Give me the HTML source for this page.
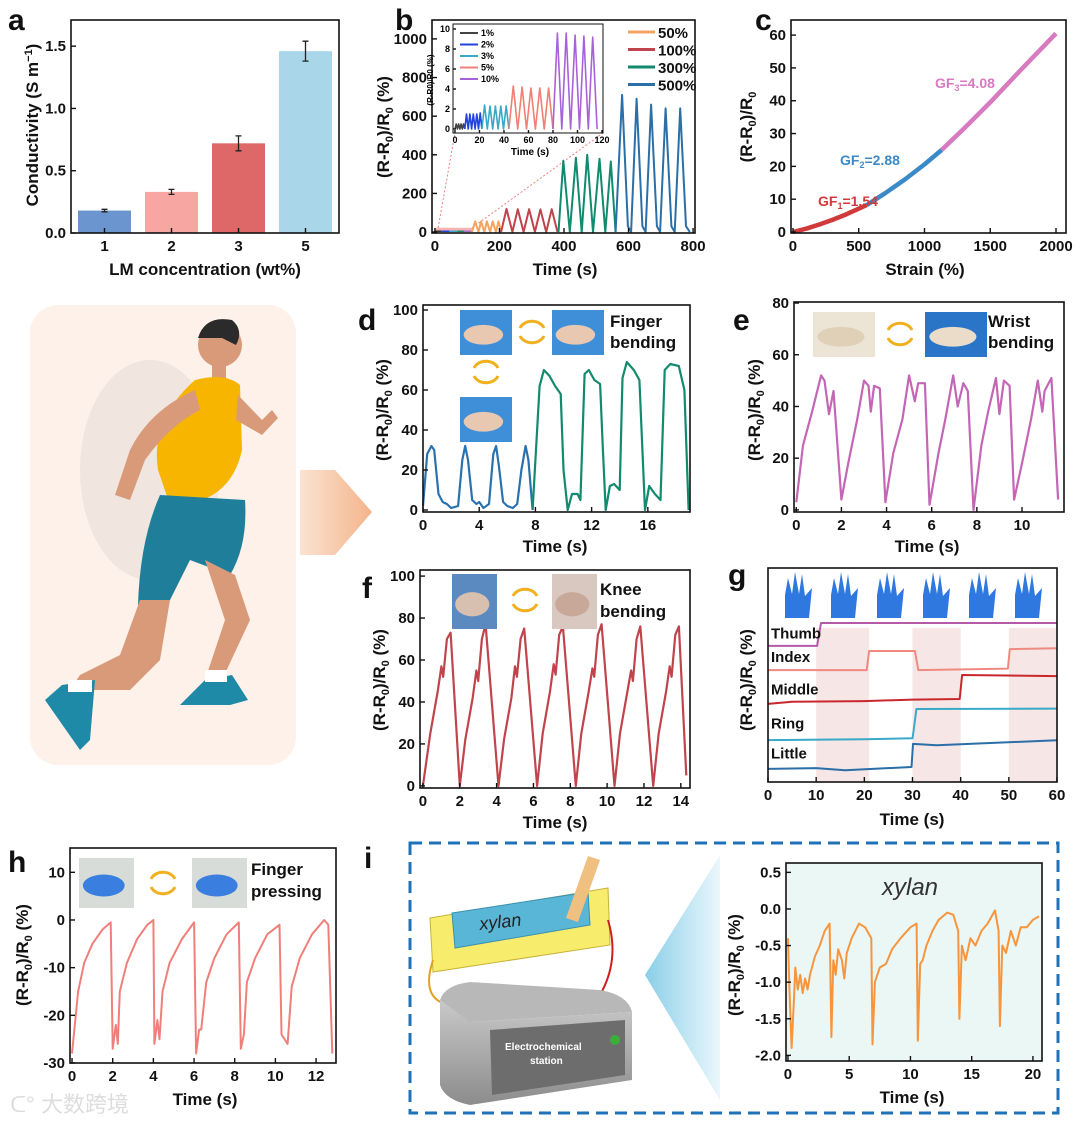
<!DOCTYPE html>
<html><head><meta charset="utf-8"><style>
html,body{margin:0;padding:0;background:#fff}
svg{display:block;font-family:"Liberation Sans",Arial,sans-serif}
.tk{font-size:15px;font-weight:bold;fill:#111}
.tt{font-size:17px;font-weight:bold;fill:#111}
.pl{font-size:30px;font-weight:bold;fill:#111}
</style></head><body>
<svg id="fig" width="1080" height="1124" viewBox="0 0 1080 1124" xmlns="http://www.w3.org/2000/svg">
<defs>
<linearGradient id="arr" x1="0" x2="1"><stop offset="0" stop-color="#fbe3d2"/><stop offset="1" stop-color="#f4b48a"/></linearGradient>
<linearGradient id="tri" x1="1" x2="0"><stop offset="0" stop-color="#e6f5fb"/><stop offset="1" stop-color="#6cc3e2"/></linearGradient>
<linearGradient id="box" x1="0" x2="0" y1="0" y2="1"><stop offset="0" stop-color="#c9c9c9"/><stop offset="1" stop-color="#8c8c8c"/></linearGradient>
</defs>
<g>
<rect x="30" y="305" width="266" height="460" rx="28" fill="#fdf1ea"/>
<ellipse cx="150" cy="470" rx="70" ry="110" fill="#e9e0da" opacity="0.7"/>
<polygon points="300,470 335,470 372,512 335,555 300,555" fill="url(#arr)"/>
<circle cx="220" cy="345" r="22" fill="#d99a7a"/>
<path d="M198,338 Q205,315 232,320 Q244,330 236,345 L222,338 Z" fill="#2b2b2b"/>
<rect x="212" y="360" width="14" height="20" fill="#d99a7a"/>
<path d="M195,380 Q225,372 240,385 L242,450 Q230,505 170,505 L158,470 Q150,420 195,380 Z" fill="#f7b500"/>
<path d="M195,390 Q150,410 130,450 L115,495 L130,500 L145,460 Q170,425 200,410 Z" fill="#d99a7a"/>
<path d="M238,395 L262,420 L272,410 L278,418 L262,435 L236,420 Z" fill="#d99a7a"/>
<path d="M160,495 L245,500 Q248,545 230,575 L190,560 L170,600 L138,605 Q140,540 160,495 Z" fill="#1f7f9a"/>
<path d="M140,600 L170,600 L160,660 L130,690 L70,690 L80,675 L120,655 Z" fill="#d99a7a"/>
<path d="M205,560 L235,575 L250,620 L222,680 L205,680 L225,620 Z" fill="#d99a7a"/>
<path d="M62,685 L95,680 L90,740 L80,750 L45,700 Z" fill="#1f8aa8"/>
<path d="M205,680 L232,675 L248,700 L230,705 L180,705 Z" fill="#1f8aa8"/>
<rect x="205" y="670" width="22" height="12" fill="#fff"/>
<rect x="68" y="680" width="24" height="12" fill="#fff"/>
</g>
<g>
<rect x="410" y="843" width="648" height="270" fill="none" stroke="#1f72b8" stroke-width="3" stroke-dasharray="12,7"/>
<polygon points="430,918 608,888 610,945 433,972" fill="#f7ec6b" stroke="#c8b23a"/>
<polygon points="452,913 588,892 590,925 455,948" fill="#5ab6d6" stroke="#3a8fb0"/>
<text x="480" y="930" font-size="18" font-style="italic" fill="#222" transform="rotate(-6 480 930)">xylan</text>
<polygon points="566,918 578,922 600,860 588,856" fill="#f0c080"/>
<path d="M433,960 Q420,1000 450,1005" fill="none" stroke="#e3a020" stroke-width="2"/>
<path d="M608,920 Q620,960 600,995" fill="none" stroke="#cc2020" stroke-width="2"/>
<path d="M440,1000 Q445,985 470,982 L600,990 Q628,995 632,1012 L470,1022 Q445,1020 440,1000 Z" fill="#b8b8b8"/>
<path d="M440,1000 L470,1022 L632,1012 L632,1080 L470,1105 Q445,1100 440,1085 Z" fill="url(#box)"/>
<polygon points="490,1030 625,1020 625,1075 492,1095" fill="#6d6d6d"/>
<text x="505" y="1050" font-size="10" font-weight="bold" fill="#fff">Electrochemical</text>
<text x="530" y="1064" font-size="10" font-weight="bold" fill="#fff">station</text>
<circle cx="615" cy="1040" r="5" fill="#3ab03a"/>
<polygon points="645,975 720,855 720,1100" fill="url(#tri)" opacity="0.8"/>
</g>
<g id="plots"></g>
<text class="pl" x="8" y="30">a</text>
<text class="pl" x="395" y="30">b</text>
<text class="pl" x="755" y="30">c</text>
<text class="pl" x="358" y="330">d</text>
<text class="pl" x="733" y="330">e</text>
<text class="pl" x="362" y="598">f</text>
<text class="pl" x="728" y="585">g</text>
<text class="pl" x="8" y="872">h</text>
<text class="pl" x="364" y="868">i</text>
<text x="10" y="1112" font-size="22" fill="#ddd" font-family="'Liberation Sans','Noto Sans CJK SC',sans-serif">ᑕ° 大数跨境</text>
</svg>
<script>
const aCats=["1","2","3","5"];
const aVals=[0.18,0.33,0.72,1.46];
const aErr=[0.01,0.02,0.06,0.08];
const aColors=["#6b95cf","#f7a6a2","#de6767","#a9d6e8"];
const b50=[[115,0],[125,55],[135,0],[143,55],[153,0],[161,55],[171,0],[179,55],[189,0],[197,55],[205,0]];
const b100=[[205,0],[222,120],[240,0],[257,118],[275,0],[292,118],[310,0],[327,117],[345,0],[362,118],[380,0]];
const b300=[[383,0],[398,370],[418,0],[437,385],[455,0],[472,400],[490,0],[510,380],[528,0],[545,365],[560,0]];
const b500=[[560,0],[580,710],[598,30],[608,0],[625,690],[643,30],[653,0],[670,660],[688,30],[698,0],[715,640],[733,30],[743,0],[760,640],[778,30],[790,0]];
const in1=[[0,0],[1,0.5],[2,0],[3,0.5],[4,0],[5,0.5],[6,0],[7,0.5],[8,0]];
const in2=[[8,0],[9.4,1.5],[10.8,0],[12.2,1.5],[13.6,0],[15,1.5],[16.4,0],[17.8,1.5],[19.2,0],[20.6,1.6],[22,0]];
const in3=[[22,0],[24.2,2.4],[26.4,0],[28.6,2.3],[30.8,0],[33,2.3],[35.2,0],[37.4,2.3],[39.6,0],[41.8,2.3],[44,0]];
const in5=[[44,0],[47.6,4.3],[51.2,0],[54.8,4.2],[58.4,0],[62,4.1],[65.6,0],[69.2,4.1],[72.8,0],[76.4,4.1],[80,0]];
const in10=[[80,0],[83.6,9.6],[87.2,0],[90.8,9.6],[94.4,0],[98,9.4],[101.6,0],[105.2,9.3],[108.8,0],[112.4,9.2],[116,0]];
const cRed=[[0,0],[100,1.0],[200,2.3],[300,3.7],[400,5.3],[500,7.1],[560,8.2]];
const cBlue=[[560,8.2],[700,11.8],[850,16.0],[1000,20.6],[1130,25.0]];
const cPink=[[1130,25],[1300,31.5],[1500,39.5],[1700,48],[1850,54.3],[2000,60.5]];
const dBlue=[[0,2],[0.3,28],[0.6,32],[0.8,30],[1.1,8],[1.4,4],[1.7,3],[2.0,1],[2.5,2],[2.8,25],[3.0,32],[3.2,25],[3.5,5],[3.8,3],[4.0,4],[4.3,1],[4.7,3],[5.0,28],[5.2,32],[5.4,22],[5.7,4],[6.0,2],[6.4,1],[6.7,3],[7.0,20],[7.3,32],[7.5,25],[7.8,0]];
const dGreen=[[7.8,0],[8.3,62],[8.6,70],[9.0,67],[9.4,62],[9.8,58],[10.0,20],[10.3,0],[10.6,8],[11.0,8],[11.2,5],[11.5,68],[11.8,70],[12.2,65],[12.6,63],[12.8,30],[13.0,0],[13.3,12],[13.6,13],[14.0,10],[14.2,66],[14.5,74],[15.0,70],[15.4,65],[15.8,0],[16.1,12],[16.5,8],[16.9,5],[17.2,70],[17.6,73],[18.2,72],[18.6,60],[18.9,0]];
const eVals=[[0,3],[0.3,25],[0.7,38],[1.1,52],[1.25,50],[1.45,37],[1.65,46],[2.0,4],[2.3,18],[2.7,35],[3.0,50],[3.2,48],[3.3,38],[3.45,48],[3.7,47],[3.95,3],[4.3,22],[4.7,35],[5.0,52],[5.25,42],[5.4,49],[5.7,49],[5.9,2],[6.3,22],[6.6,35],[6.95,52],[7.15,40],[7.4,49],[7.6,46],[7.85,0],[8.2,25],[8.5,38],[8.85,51],[9.0,37],[9.2,50],[9.45,48],[9.65,4],[10.0,18],[10.4,35],[10.7,50],[10.9,38],[11.0,46],[11.3,51],[11.6,4]];
const fVals=[[0,0],[0.4,25],[0.8,45],[1.0,57],[1.1,52],[1.3,70],[1.5,73],[2.0,0],[2.3,22],[2.7,42],[2.9,55],[3.0,50],[3.2,70],[3.4,77],[4.1,0],[4.4,22],[4.8,42],[5.0,57],[5.1,52],[5.3,70],[5.5,75],[6.2,0],[6.5,25],[6.9,45],[7.1,58],[7.2,53],[7.4,72],[7.6,76],[8.3,0],[8.6,25],[9.0,45],[9.2,56],[9.3,52],[9.5,72],[9.7,77],[10.4,0],[10.7,25],[11.1,45],[11.3,55],[11.4,50],[11.6,70],[11.8,76],[12.5,0],[12.8,25],[13.2,45],[13.4,57],[13.5,52],[13.7,72],[13.9,76],[14.3,5]];
const gThumb=[[0,63.6],[10.2,63.6],[11,74.3],[60,74.3]];
const gIndex=[[0,52.3],[20.5,52.3],[21,61.2],[30.5,61.2],[31.2,52.3],[49.8,53],[50.2,62.1],[60,62.5]];
const gMiddle=[[0,36.5],[5,37.5],[20,37.8],[30,38.5],[39.8,38.8],[40.3,50],[60,49.5]];
const gRing=[[0,19.6],[20,20],[30,20.4],[30.3,25],[30.8,34.1],[60,34.3]];
const gLittle=[[0,6.1],[10,6.5],[16,5.5],[29.8,7],[30.1,17.8],[35,17.2],[60,19.5]];
const gNames=["Thumb","Index","Middle","Ring","Little"];
const hVals=[[0,-28],[0.3,-15],[0.6,-9],[1.0,-5],[1.5,-2],[1.9,-0.5],[2.0,-27],[2.15,-22],[2.25,-26],[2.35,-15],[2.7,-9],[3.2,-4],[3.7,-1],[4.0,0],[4.05,-26],[4.2,-21],[4.3,-25],[4.45,-15],[4.8,-9],[5.4,-4],[6.0,-0.5],[6.1,-28],[6.25,-23],[6.35,-23],[6.6,-13],[7.0,-8],[7.6,-3],[8.2,-0.5],[8.3,-27],[8.45,-24],[8.6,-13],[9.0,-8],[9.6,-3],[10.2,-1],[10.3,-24],[10.6,-26],[10.8,-14],[11.2,-8],[11.8,-3],[12.4,0],[12.6,-1],[12.8,-28]];
const iVals=[[0,-0.4],[0.1,-1.0],[0.3,-1.9],[0.5,-1.2],[0.6,-0.8],[0.8,-1.1],[1.0,-0.9],[1.2,-1.15],[1.4,-0.95],[1.6,-1.1],[1.8,-0.9],[2.2,-0.65],[2.6,-0.5],[3.0,-0.3],[3.4,-0.2],[3.55,-1.75],[3.7,-0.7],[3.9,-0.9],[4.1,-0.55],[4.4,-0.7],[4.6,-0.95],[4.8,-0.6],[5.2,-0.4],[5.8,-0.2],[6.3,-0.25],[6.8,-0.4],[6.9,-1.85],[7.1,-1.0],[7.5,-0.8],[8.0,-0.75],[8.5,-0.55],[9.2,-0.4],[10.0,-0.25],[10.5,-0.2],[10.6,-1.8],[10.8,-0.75],[11.0,-0.7],[11.3,-0.5],[11.8,-0.3],[12.3,-0.15],[13.0,-0.05],[13.5,-0.08],[13.9,-0.3],[14.0,-1.5],[14.2,-0.5],[14.5,-0.7],[14.9,-0.4],[15.3,-0.5],[15.8,-0.3],[16.3,-0.2],[16.9,-0.02],[17.2,-0.3],[17.3,-1.6],[17.5,-0.5],[17.8,-0.6],[18.2,-0.3],[18.6,-0.5],[19.0,-0.25],[19.5,-0.25],[20.0,-0.15],[20.5,-0.1]];
const aYTicks=[0,0.5,1,1.5], aYLab=["0.0","0.5","1.0","1.5"];
const bXTicks=[0,200,400,600,800], bYTicks=[0,200,400,600,800,1000];
const inXTicks=[0,20,40,60,80,100,120], inYTicks=[0,2,4,6,8,10];
const cXTicks=[0,500,1000,1500,2000], cYTicks=[0,10,20,30,40,50,60];
const dXTicks=[0,4,8,12,16], dYTicks=[0,20,40,60,80,100];
const eXTicks=[0,2,4,6,8,10], eYTicks=[0,20,40,60,80];
const fXTicks=[0,2,4,6,8,10,12,14], fYTicks=[0,20,40,60,80,100];
const gXTicks=[0,10,20,30,40,50,60];
const hXTicks=[0,2,4,6,8,10,12], hYTicks=[-30,-20,-10,0,10];
const iXTicks=[0,5,10,15,20], iYTicks=[-2,-1.5,-1,-0.5,0,0.5], iYLab=["-2.0","-1.5","-1.0","-0.5","0.0","0.5"];

const NS="http://www.w3.org/2000/svg";
const root=document.getElementById('plots');
function mk(tag,attrs,parent){const e=document.createElementNS(NS,tag);for(const k in attrs)e.setAttribute(k,attrs[k]);(parent||root).appendChild(e);return e;}
function txt(s,x,y,cls,anchor,parent,extra){const e=mk('text',Object.assign({x:x,y:y,class:cls,'text-anchor':anchor||'middle'},extra||{}),parent);e.textContent=s;return e;}
function axes(p){
  const sx=v=>p.l+(v-p.x0)/(p.x1-p.x0)*(p.r-p.l);
  const sy=v=>p.b-(v-p.y0)/(p.y1-p.y0)*(p.b-p.t);
  const g=mk('g',{});
  
  
  if(p.bg){const bg=mk('rect',{x:p.l,y:p.t,width:p.r-p.l,height:p.b-p.t,fill:p.bg},g);
    
    }
  p.g=g;p.sx=sx;p.sy=sy;return p;
}
function frame(p){
  const g=p.g, cls=p.small?'':'tk';
  const fr=mk('rect',{x:p.l,y:p.t,width:p.r-p.l,height:p.b-p.t,fill:'none',stroke:'#111','stroke-width':p.small?1:1.6},g);
  
  
  (p.xt||[]).forEach((v,i)=>{const x=p.sx(v);
    mk('line',{x1:x,x2:x,y1:p.b,y2:p.b-(p.small?3:5),stroke:'#111','stroke-width':1.4},g);
    const t=txt(p.xl?p.xl[i]:String(v),x,p.b+(p.small?10:18),cls,'middle',g,p.small?{'font-size':9,'font-weight':'bold'}:{});
    
    });
  (p.yt||[]).forEach((v,i)=>{const y=p.sy(v);
    mk('line',{x1:p.l,x2:p.l+(p.small?3:5),y1:y,y2:y,stroke:'#111','stroke-width':1.4},g);
    const t=txt(p.yl?p.yl[i]:String(v),p.l-(p.small?3:5),y+(p.small?3:5),cls,'end',g,p.small?{'font-size':9,'font-weight':'bold'}:{});
    
    });
}
function line(p,data,color,w,name){
  const d=data.map((q,i)=>(i?'L':'M')+p.sx(q[0]).toFixed(1)+','+p.sy(q[1]).toFixed(1)).join('');
  const e=mk('path',{d:d,fill:'none',stroke:color,'stroke-width':w||2,'stroke-linejoin':'round'},p.g);
  
  
  return e;
}
function ytitle(x,y,html,parent){const t=mk('text',{x:x,y:y,class:'tt','text-anchor':'middle',transform:'rotate(-90 '+x+' '+y+')'},parent);t.innerHTML=html;
  
  return t;}
function xtitle(x,y,s,parent){const t=txt(s,x,y,'tt','middle',parent);
  
  return t;}
const RR='(R-R<tspan font-size="11" dy="4">0</tspan><tspan dy="-4">)/R</tspan><tspan font-size="11" dy="4">0</tspan><tspan dy="-4"> (%)</tspan>';
const RR2='(R-R<tspan font-size="11" dy="4">0</tspan><tspan dy="-4">)/R</tspan><tspan font-size="11" dy="4">0</tspan>';
function photo(g,x,y,w,h,c1,c2,name){const r=mk('rect',{x:x,y:y,width:w,height:h,fill:c1},g);
  
  
  mk('ellipse',{cx:x+w*0.45,cy:y+h*0.55,rx:w*0.38,ry:h*0.22,fill:c2},g);}
function cyc(g,x,y){mk('path',{d:`M${x-12},${y-4} A13,11 0 0 1 ${x+12},${y-4}`,fill:'none',stroke:'#f0b020','stroke-width':3},g);
  mk('path',{d:`M${x+12},${y+4} A13,11 0 0 1 ${x-12},${y+4}`,fill:'none',stroke:'#f0b020','stroke-width':3},g);}

const pa=axes({name:'panel-a-bar-chart',l:71,r:339,t:20,b:233,x0:0,x1:4,y0:0,y1:1.71});
aVals.forEach((v,i)=>{const cx=pa.sx(i+0.5),w=53;
  const b=mk('rect',{x:cx-w/2,y:pa.sy(v),width:w,height:pa.sy(0)-pa.sy(v),fill:aColors[i]},pa.g);
  
  
  const e=mk('path',{d:`M${cx},${pa.sy(v-aErr[i])}V${pa.sy(v+aErr[i])}M${cx-3},${pa.sy(v-aErr[i])}h6M${cx-3},${pa.sy(v+aErr[i])}h6`,stroke:'#222','stroke-width':1.3,fill:'none'},pa.g);
  
  });
frame(Object.assign(pa,{xt:[0.5,1.5,2.5,3.5],xl:aCats,yt:aYTicks,yl:aYLab}));
ytitle(38,125,'Conductivity (S m<tspan font-size="11" dy="-6">−1</tspan><tspan dy="6">)</tspan>',pa.g);
xtitle(205,275,'LM concentration (wt%)',pa.g);

const pb=axes({name:'panel-b-cyclic-strain-chart',l:432,r:695,t:20,b:233,x0:-9,x1:806,y0:-5,y1:1098});
const bz=mk('rect',{x:pb.sx(0),y:pb.sy(22),width:pb.sx(115)-pb.sx(0),height:pb.sy(0)-pb.sy(22),fill:'#f6b3b3'},pb.g);


[['#333',0,20],['#2244dd',20,45],['#3aa8c8',45,70],['#1e8c6a',70,90],['#a36fd0',90,115]].forEach(q=>mk('rect',{x:pb.sx(q[1]),y:pb.sy(8),width:pb.sx(q[2])-pb.sx(q[1]),height:pb.sy(0)-pb.sy(8),fill:q[0]},pb.g));
mk('line',{x1:pb.sx(10),y1:pb.sy(22),x2:455,y2:133,stroke:'#f08080','stroke-dasharray':'2,2'},pb.g);
mk('line',{x1:pb.sx(115),y1:pb.sy(22),x2:603,y2:133,stroke:'#f08080','stroke-dasharray':'2,2'},pb.g);
line(pb,b50,'#f4a460',2,'line-50pct');
line(pb,b100,'#c0444c',2,'line-100pct');
line(pb,b300,'#128a6e',2,'line-300pct');
line(pb,b500,'#2a6fa8',2,'line-500pct');
frame(Object.assign(pb,{xt:bXTicks,yt:bYTicks}));
ytitle(389,127,RR,pb.g);
xtitle(565,275,'Time (s)',pb.g);
const bleg=[['50%','#f4a460'],['100%','#c0444c'],['300%','#128a6e'],['500%','#2a6fa8']];
bleg.forEach((q,i)=>{const y=32+i*17.5;
  mk('line',{x1:628,x2:655,y1:y,y2:y,stroke:q[1],'stroke-width':3},pb.g);
  const t=txt(q[0],658,y+6,'tk','start',pb.g);
  
  });
const pin=axes({name:'panel-b-inset',l:453,r:603,t:24,b:133,x0:-1.6,x1:120.8,y0:-0.4,y1:10.5,bg:'#fff'});
line(pin,in1,'#444',1.6,'inset-line-1pct');
line(pin,in2,'#2244dd',1.6,'inset-line-2pct');
line(pin,in3,'#3aa8c8',1.6,'inset-line-3pct');
line(pin,in5,'#f07f75',1.6,'inset-line-5pct');
line(pin,in10,'#a862d8',1.6,'inset-line-10pct');
frame(Object.assign(pin,{xt:inXTicks,yt:inYTicks,small:true}));
const inLeg=[['1%','#444'],['2%','#2244dd'],['3%','#3aa8c8'],['5%','#f07f75'],['10%','#a862d8']];
inLeg.forEach((q,i)=>{const y=33+i*11.5;
  mk('line',{x1:460,x2:478,y1:y,y2:y,stroke:q[1],'stroke-width':2},pin.g);
  const t=txt(q[0],481,y+3,'','start',pin.g,{'font-size':9,'font-weight':'bold'});
  
  });
const it=mk('text',{x:433,y:80,'font-size':8,'font-weight':'bold','text-anchor':'middle',transform:'rotate(-90 433 80)'},pin.g);it.textContent='(R-R0)/R0 (%)';


const ixt=txt('Time (s)',530,155,'','middle',pin.g,{'font-size':10,'font-weight':'bold'});



const pc=axes({name:'panel-c-strain-chart',l:791,r:1066,t:20,b:233,x0:-15,x1:2076,y0:-0.3,y1:64.6});
line(pc,cRed,'#d03a3a',4.5,'line-gf1');
line(pc,cBlue,'#3b8ac8',4.5,'line-gf2');
line(pc,cPink,'#d77ac0',4.5,'line-gf3');
frame(Object.assign(pc,{xt:cXTicks,yt:cYTicks}));
ytitle(752,127,RR2,pc.g);
xtitle(925,275,'Strain (%)',pc.g);
[['GF','1','=1.54',818,206,'#d03a3a'],['GF','2','=2.88',840,165,'#3b8ac8'],['GF','3','=4.08',935,88,'#d77ac0']].forEach(q=>{
  const t=mk('text',{x:q[3],y:q[4],'font-size':14,'font-weight':'bold',fill:q[5]},pc.g);
  t.innerHTML=q[0]+'<tspan font-size="9" dy="3">'+q[1]+'</tspan><tspan dy="-3">'+q[2]+'</tspan>';
  
  });

const pd=axes({name:'panel-d-finger-chart',l:423,r:690,t:305,b:512,x0:0,x1:19,y0:-1,y1:102.5});
line(pd,dBlue,'#2a72ad',2.2,'line-finger-small');
line(pd,dGreen,'#128a6e',2.2,'line-finger-large');
frame(Object.assign(pd,{xt:dXTicks,yt:dYTicks}));
ytitle(388,410,RR,pd.g);
xtitle(555,552,'Time (s)',pd.g);
photo(pd.g,460,310,52,45,'#3f8fd8','#e8c8b0','finger-photo-straight');
photo(pd.g,552,310,52,45,'#3f8fd8','#e8c8b0','finger-photo-bent');
photo(pd.g,460,397,52,45,'#3f8fd8','#e8c8b0','finger-photo-bent2');
cyc(pd.g,532,332);cyc(pd.g,486,372);
txt('Finger',610,327,'tt','start',pd.g);txt('bending',610,348,'tt','start',pd.g);

const pe=axes({name:'panel-e-wrist-chart',l:794,r:1064,t:302,b:512,x0:-0.1,x1:11.86,y0:-0.8,y1:80.4});
line(pe,eVals,'#c466b6',2.2,'line-wrist');
frame(Object.assign(pe,{xt:eXTicks,yt:eYTicks}));
ytitle(760,410,RR,pe.g);
xtitle(927,552,'Time (s)',pe.g);
photo(pe.g,813,312,62,45,'#ece4d4','#e0d0b8','wrist-photo-straight');
photo(pe.g,925,312,62,45,'#2a75c8','#eadcc8','wrist-photo-bent');
cyc(pe.g,900,334);
txt('Wrist',988,327,'tt','start',pe.g);txt('bending',988,348,'tt','start',pe.g);

const pf=axes({name:'panel-f-knee-chart',l:420,r:690,t:570,b:788,x0:-0.16,x1:14.5,y0:-1,y1:102.9});
line(pf,fVals,'#c0444c',2.2,'line-knee');
frame(Object.assign(pf,{xt:fXTicks,yt:fYTicks}));
ytitle(385,680,RR,pf.g);
xtitle(555,828,'Time (s)',pf.g);
photo(pf.g,452,574,45,55,'#5a8ac0','#d8c0b0','knee-photo-straight');
photo(pf.g,552,574,45,55,'#d8c8c0','#c8a898','knee-photo-bent');
cyc(pf.g,525,600);
txt('Knee',600,595,'tt','start',pf.g);txt('bending',600,617,'tt','start',pf.g);

const pg=axes({name:'panel-g-glove-chart',l:768,r:1057,t:568,b:782,x0:0,x1:60,y0:0,y1:100});
[[10,21],[30,40],[50,60]].forEach(q=>{const s=mk('rect',{x:pg.sx(q[0]),y:pg.sy(72),width:pg.sx(q[1])-pg.sx(q[0]),height:pg.sy(0)-pg.sy(72),fill:'#f6e6e6'},pg.g);
  
  });
line(pg,gThumb,'#b55aa8',2,'line-thumb');
line(pg,gIndex,'#f08a80',2,'line-index');
line(pg,gMiddle,'#c8282c',2,'line-middle');
line(pg,gRing,'#3aa8c8',2,'line-ring');
line(pg,gLittle,'#2a6fa8',2,'line-little');
frame(Object.assign(pg,{xt:gXTicks,yt:[]}));
[67,56,41,25,11].forEach((v,i)=>{const t=txt(gNames[i],771,pg.sy(v),'tk','start',pg.g,{'font-size':13});
  
  });
for(let i=0;i<6;i++){const x=785+i*46;
  const h=mk('path',{d:`M${x},${618} L${x},${595} L${x+3},${578} L${x+7},${594} L${x+10},${572} L${x+14},${594} L${x+17},${574} L${x+20},${596} L${x+27},${588} L${x+24},${618} Z`,fill:'#2f78e0'},pg.g);
  
  }
ytitle(752,680,RR,pg.g);
xtitle(912,825,'Time (s)',pg.g);

const ph=axes({name:'panel-h-pressing-chart',l:70,r:336,t:848,b:1063,x0:-0.1,x1:12.98,y0:-30,y1:15.1});
line(ph,hVals,'#f07f7a',2,'line-pressing');
frame(Object.assign(ph,{xt:hXTicks,yt:hYTicks}));
ytitle(28,955,RR,ph.g);
xtitle(205,1105,'Time (s)',ph.g);
photo(ph.g,79,858,55,50,'#d8dcd8','#3a7ee0','press-photo-up');
photo(ph.g,192,858,55,50,'#d8dcd8','#3a7ee0','press-photo-down');
cyc(ph.g,163,883);
txt('Finger',251,875,'tt','start',ph.g);txt('pressing',251,897,'tt','start',ph.g);

const pi=axes({name:'panel-i-handwriting-chart',l:786,r:1042,t:863,b:1061,x0:-0.16,x1:20.74,y0:-2.077,y1:0.628,bg:'#eaf7f4'});
line(pi,iVals,'#f7953e',2,'line-handwriting');
frame(Object.assign(pi,{xt:iXTicks,yt:iYTicks,yl:iYLab}));
ytitle(740,965,RR,pi.g);
xtitle(912,1103,'Time (s)',pi.g);
const xy=txt('xylan',910,895,'','middle',pi.g,{'font-size':24,'font-style':'italic',fill:'#333'});


</script>
</body></html>
